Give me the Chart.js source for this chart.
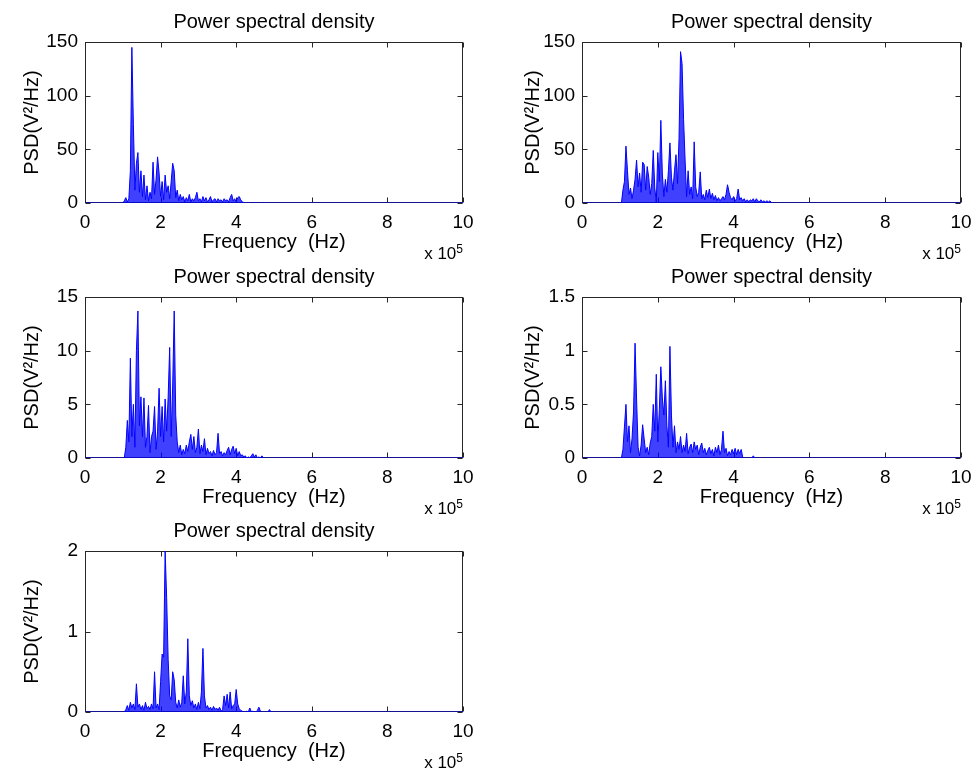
<!DOCTYPE html>
<html>
<head>
<meta charset="utf-8">
<title>Power spectral density</title>
<script src="https://cdn.jsdelivr.net/npm/chart.js@4.4.0/dist/chart.umd.min.js"></script>
<style>
  body { margin: 0; background: #fff; }
  #figure { position: relative; width: 975px; height: 772px; overflow: hidden; }
  #figure canvas { position: absolute; }
</style>
</head>
<body>
<div id="figure">
  <canvas id="psd1" width="487" height="265" style="left:0;top:0"></canvas>
  <canvas id="psd2" width="500" height="265" style="left:487px;top:0"></canvas>
  <canvas id="psd3" width="487" height="265" style="left:0;top:255px"></canvas>
  <canvas id="psd4" width="500" height="265" style="left:487px;top:255px"></canvas>
  <canvas id="psd5" width="487" height="265" style="left:0;top:509px"></canvas>
</div>
<script>
// frequency grid, in units of 10^5 Hz
const freq = [0,
  1.00, 1.04, 1.08, 1.12, 1.16, 1.20, 1.24, 1.28, 1.32, 1.36,
  1.40, 1.44, 1.48, 1.52, 1.56, 1.60, 1.64, 1.68, 1.72, 1.76,
  1.80, 1.84, 1.88, 1.92, 1.96, 2.00, 2.04, 2.08, 2.12, 2.16,
  2.20, 2.24, 2.28, 2.32, 2.36, 2.40, 2.44, 2.48, 2.52, 2.56,
  2.60, 2.64, 2.68, 2.72, 2.76, 2.80, 2.84, 2.88, 2.92, 2.96,
  3.00, 3.04, 3.08, 3.12, 3.16, 3.20, 3.24, 3.28, 3.32, 3.36,
  3.40, 3.44, 3.48, 3.52, 3.56, 3.60, 3.64, 3.68, 3.72, 3.76,
  3.80, 3.84, 3.88, 3.92, 3.96, 4.00, 4.04, 4.08, 4.12, 4.16,
  4.20, 4.24, 4.28, 4.32, 4.36, 4.40, 4.44, 4.48, 4.52, 4.56,
  4.60, 4.64, 4.68, 4.72, 4.76, 4.80, 4.84, 4.88, 4.92, 4.96,
  5.00, 10];

// PSD values (V^2/Hz)
const psd1 = [0,
  0, 2, 5, 1, 4, 30, 145, 73, 12, 37,
  47, 10, 30, 6, 26, 3, 16, 2, 10, 4,
  38, 8, 22, 43, 28, 6, 20, 3, 26, 10,
  16, 4, 20, 37, 30, 5, 12, 2, 8, 3,
  6, 1, 5, 2, 8, 1, 4, 2, 5, 10,
  2, 4, 1, 6, 2, 5, 1, 3, 6, 1,
  3, 4, 1, 4, 2, 3, 1, 4, 2, 3,
  1, 5, 8, 2, 4, 1, 5, 6, 3, 1,
  0.5, 0, 0, 0.3, 0, 0, 0, 0.5, 0, 0,
  0, 0, 0, 0.5, 0, 0, 0, 0, 0, 0,
  0, 0];

const psd2 = [0,
  0, 0, 12, 20, 53, 30, 8, 14, 4, 12,
  22, 40, 15, 28, 10, 38, 36, 12, 34, 24,
  8, 18, 49, 14, 1, 47, 20, 77, 27, 6,
  22, 10, 30, 56, 24, 12, 30, 45, 18, 60,
  141, 130, 78, 40, 6, 30, 8, 15, 4, 57,
  15, 6, 10, 29, 4, 8, 3, 12, 5, 13,
  4, 9, 3, 7, 2, 5, 2, 4, 6, 3,
  8, 17, 10, 5, 3, 6, 2, 4, 13, 3,
  5, 2, 4, 1, 3, 1, 3, 2, 4, 1,
  4, 2, 1, 3, 1, 2, 1, 2, 1, 2,
  0, 0];

const psd3 = [0,
  0, 0, 1, 3.5, 1.5, 9.3, 2, 5, 1, 10,
  13.7, 3, 5.7, 2, 5.6, 1, 2, 4.9, 0.5, 2,
  2.5, 4.8, 0.8, 2.5, 6.5, 2, 4.8, 1.5, 5.5, 2.5,
  5.7, 10.3, 2, 6.8, 13.7, 4, 1.5, 0.5, 1.2, 0.3,
  0.8, 0.4, 1.2, 0.6, 1.5, 2.2, 0.8, 2, 0.5, 1,
  2.7, 0.4, 1.2, 0.6, 1.8, 0.3, 0.9, 0.4, 0.6, 0.2,
  0.7, 0.3, 0.5, 2.3, 0.4, 0.6, 0.2, 0.5, 0.3, 0.7,
  1, 0.3, 0.8, 1.1, 0.4, 0.9, 0.2, 0.6, 0.2, 0.3,
  0.1, 0.2, 0, 0.1, 0, 0.2, 0.4, 0.1, 0.3, 0,
  0.1, 0, 0.2, 0, 0, 0, 0, 0, 0, 0,
  0, 0];

const psd4 = [0,
  0, 0, 0.08, 0.29, 0.5, 0.15, 0.3, 0.05, 0.18, 0.43,
  1.07, 0.55, 0.1, 0.02, 0.12, 0.31, 0.18, 0.05, 0.1, 0.03,
  0.14, 0.2, 0.5, 0.25, 0.78, 0.15, 0.45, 0.85, 0.56, 0.4,
  0.72, 0.3, 0.1, 1.04, 0.4, 0.1, 0.3, 0.05, 0.15, 0.08,
  0.2, 0.05, 0.12, 0.06, 0.23, 0.04, 0.1, 0.13, 0.05, 0.15,
  0.08, 0.12, 0.03, 0.1, 0.14, 0.05, 0.09, 0.03, 0.07, 0.1,
  0.04, 0.08, 0.02, 0.1, 0.05, 0.12, 0.03, 0.08, 0.25, 0.05,
  0.09, 0.02, 0.06, 0.03, 0.08, 0.04, 0.09, 0.03, 0.08, 0.04,
  0.08, 0.01, 0, 0, 0, 0, 0, 0, 0.02, 0,
  0, 0, 0, 0, 0, 0, 0, 0, 0, 0,
  0, 0];

const psd5 = [0,
  0, 0, 0.03, 0.08, 0.02, 0.12, 0.05, 0.1, 0.03, 0.35,
  0.06, 0.1, 0.03, 0.08, 0.02, 0.12, 0.04, 0.07, 0.03, 0.1,
  0.04, 0.5, 0.05, 0.1, 0.03, 0.38, 0.72, 0.68, 2.0, 1.42,
  0.65, 0.2, 0.15, 0.5, 0.4, 0.12, 0.05, 0.15, 0.06, 0.12,
  0.45, 0.1, 0.25, 0.91, 0.2, 0.08, 0.14, 0.05, 0.1, 0.03,
  0.12, 0.04, 0.25, 0.79, 0.2, 0.05, 0.08, 0.03, 0.06, 0.02,
  0.07, 0.03, 0.05, 0.02, 0.06, 0.01, 0.03, 0.2, 0.08, 0.22,
  0.05, 0.25, 0.04, 0.08, 0.1, 0.28, 0.1, 0.04, 0.02, 0.01,
  0, 0, 0.01, 0, 0.05, 0, 0.01, 0, 0, 0.02,
  0.06, 0.01, 0, 0, 0, 0, 0, 0.03, 0, 0,
  0, 0];

// tick labels
const xTicks = [0, 2, 4, 6, 8, 10];
const yTicks1 = [0, 50, 100, 150];
const yTicks2 = [0, 50, 100, 150];
const yTicks3 = [0, 5, 10, 15];
const yTicks4 = [0, 0.5, 1, 1.5];
const yTicks5 = [0, 1, 2];

Chart.defaults.font.family = '"Liberation Sans", Arial, sans-serif';
Chart.defaults.color = '#000';

// MATLAB-like axes box with inward ticks and the "x 10^5" exponent label
const matlabBox = {
    id: 'matlabBox',
    beforeDatasetsDraw(chart) {
        const { ctx, chartArea: a, scales: { x, y } } = chart;
        const L = Math.round(a.left) + 0.5, R = Math.round(a.right) - 0.5;
        const T = Math.round(a.top) + 0.5, B = Math.round(a.bottom) - 0.5;
        ctx.save();
        ctx.strokeStyle = '#262626';
        ctx.lineWidth = 1;
        ctx.strokeRect(L, T, R - L, B - T);
        ctx.beginPath();
        x.ticks.forEach(t => {
            const px = Math.round(x.getPixelForValue(t.value)) + 0.5;
            ctx.moveTo(px, B); ctx.lineTo(px, B - 5);
            ctx.moveTo(px, T); ctx.lineTo(px, T + 5);
        });
        y.ticks.forEach(t => {
            const py = Math.round(y.getPixelForValue(t.value)) + 0.5;
            ctx.moveTo(L, py); ctx.lineTo(L + 5, py);
            ctx.moveTo(R, py); ctx.lineTo(R - 5, py);
        });
        ctx.stroke();
        ctx.restore();
    },
    afterDraw(chart) {
        const { ctx, chartArea: a } = chart;
        ctx.save();
        ctx.fillStyle = '#000';
        ctx.textAlign = 'right';
        ctx.textBaseline = 'alphabetic';
        ctx.font = '12px "Liberation Sans", Arial, sans-serif';
        const w5 = ctx.measureText('5').width;
        ctx.fillText('5', a.right, a.bottom + 50);
        ctx.font = '17px "Liberation Sans", Arial, sans-serif';
        ctx.fillText('x 10', a.right - w5, a.bottom + 56);
        ctx.restore();
    }
};

function makePanel(id, values, yTicks, isRight) {
    const ctx = document.getElementById(id).getContext('2d');
    return new Chart(ctx, {
        type: 'line',
        data: {
            datasets: [{
                data: freq.map((f, i) => ({ x: f, y: values[i] })),
                borderColor: '#0000ff',
                backgroundColor: 'rgba(0, 0, 255, 0.75)',
                borderWidth: 1,
                pointRadius: 0,
                tension: 0,
                fill: 'origin'
            }]
        },
        options: {
            responsive: false,
            animation: false,
            events: [],
            layout: { padding: { left: 0, right: isRight ? 26 : 24, top: 0, bottom: 0 } },
            plugins: {
                legend: { display: false },
                tooltip: { enabled: false },
                title: {
                    display: true,
                    text: 'Power spectral density',
                    fullSize: false,
                    font: { size: 20, weight: 'normal' },
                    padding: { top: 10, bottom: 8 }
                }
            },
            scales: {
                x: {
                    type: 'linear',
                    min: xTicks[0],
                    max: xTicks[xTicks.length - 1],
                    afterFit: s => { s.height = 62; },
                    afterBuildTicks: s => { s.ticks = xTicks.map(v => ({ value: v })); },
                    ticks: { padding: 8, font: { size: 19 }, maxRotation: 0, callback: v => String(v) },
                    grid: { display: false, drawTicks: false },
                    border: { display: false },
                    title: {
                        display: true,
                        text: 'Frequency  (Hz)',
                        font: { size: 20 },
                        padding: { top: 0, bottom: 11 }
                    }
                },
                y: {
                    type: 'linear',
                    min: yTicks[0],
                    max: yTicks[yTicks.length - 1],
                    afterFit: s => { s.width = isRight ? 95 : 85; },
                    afterBuildTicks: s => { s.ticks = yTicks.map(v => ({ value: v })); },
                    ticks: { padding: 7, font: { size: 19 }, callback: v => String(v) },
                    grid: { display: false, drawTicks: false },
                    border: { display: false },
                    title: {
                        display: true,
                        text: 'PSD(V\u00b2/Hz)',
                        font: { size: 20 },
                        padding: { top: isRight ? 34 : 20, bottom: 0 }
                    }
                }
            }
        },
        plugins: [matlabBox]
    });
}

makePanel('psd1', psd1, yTicks1, false);
makePanel('psd2', psd2, yTicks2, true);
makePanel('psd3', psd3, yTicks3, false);
makePanel('psd4', psd4, yTicks4, true);
makePanel('psd5', psd5, yTicks5, false);
</script>
</body>
</html>
